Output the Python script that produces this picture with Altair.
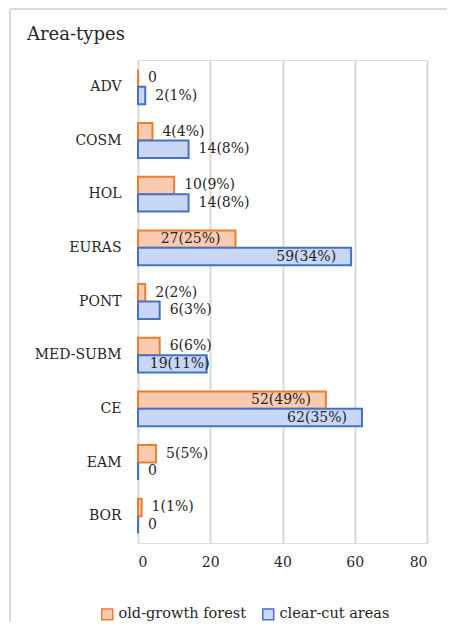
import altair as alt
import pandas as pd

categories = ["ADV", "COSM", "HOL", "EURAS", "PONT", "MED-SUBM", "CE", "EAM", "BOR"]
series = ["old-growth forest", "clear-cut areas"]
old_growth = [0, 4, 10, 27, 2, 6, 52, 5, 1]
old_growth_labels = ["0", "4(4%)", "10(9%)", "27(25%)", "2(2%)", "6(6%)", "52(49%)", "5(5%)", "1(1%)"]
clear_cut = [2, 14, 14, 59, 6, 19, 62, 0, 0]
clear_cut_labels = ["2(1%)", "14(8%)", "14(8%)", "59(34%)", "6(3%)", "19(11%)", "62(35%)", "0", "0"]
x_ticks = [0, 20, 40, 60, 80]

rows = []
for c, v, l in zip(categories, old_growth, old_growth_labels):
    rows.append({"cat": c, "series": series[0], "value": v, "label": l})
for c, v, l in zip(categories, clear_cut, clear_cut_labels):
    rows.append({"cat": c, "series": series[1], "value": v, "label": l})
df = pd.DataFrame(rows)

FONT = "DejaVu Serif"
TXT = "#262626"

y_enc = alt.Y("cat:N", sort=categories, title=None,
              scale=alt.Scale(paddingInner=0.35, paddingOuter=0.175),
              axis=alt.Axis(labelFont=FONT, labelFontSize=14, labelColor=TXT,
                            labelPadding=17, ticks=False, domain=False))
x_enc = alt.X("value:Q", title=None,
              scale=alt.Scale(domain=[0, 80], nice=False),
              axis=alt.Axis(values=x_ticks, labelFont=FONT, labelFontSize=14, labelColor=TXT,
                            labelPadding=12, ticks=False, domain=False,
                            grid=True, gridColor="#d9d9d9", gridWidth=2))
yoff = alt.YOffset("series:N", sort=series)

bars = alt.Chart(df).mark_bar(strokeWidth=2, clip=False).encode(
    y=y_enc,
    x=x_enc,
    yOffset=yoff,
    fill=alt.Fill("series:N", sort=series, title=None,
                  scale=alt.Scale(domain=series, range=["#fbcbb1", "#c8d7f6"]),
                  legend=alt.Legend(orient="none", direction="horizontal",
                                    legendX=-38, legendY=547,
                                    symbolType="square", symbolSize=120,
                                    symbolStrokeWidth=1.5,
                                    labelFont=FONT, labelFontSize=14.5, labelColor=TXT,
                                    labelOffset=4, columnPadding=12)),
    stroke=alt.Stroke("series:N", sort=series, title=None,
                      scale=alt.Scale(domain=series, range=["#ed7d31", "#4472c4"]),
                      legend=None),
)

def labels(cond, align, dx):
    return alt.Chart(df).transform_filter(cond).mark_text(
        align=align, baseline="middle", dx=dx, font=FONT, fontSize=14, color=TXT
    ).encode(
        y=alt.Y("cat:N", sort=categories),
        x=alt.X("value:Q"),
        yOffset=yoff,
        text="label:N",
    )

lab_big = labels("datum.value >= 25", "right", -15)
lab_mid = labels("datum.value >= 15 && datum.value < 25", "right", 3)
lab_small = labels("datum.value < 15", "left", 10)

border_left = alt.Chart(df).mark_rule(color="#d9d9d9", strokeWidth=2).encode(
    x=alt.value(-128), y=alt.value(-51), y2=alt.value(600))
border_top = alt.Chart(df).mark_rule(color="#d9d9d9", strokeWidth=2).encode(
    y=alt.value(-51), x=alt.value(-128), x2=alt.value(330))

chart = alt.layer(border_left, border_top, bars, lab_big, lab_mid, lab_small).properties(
    width=289,
    height=483,
    autosize=alt.AutoSizeParams(type="none"),
    padding={"left": 130, "top": 52, "right": 20, "bottom": 79},
    title=alt.TitleParams("Area-types", anchor="start", frame="group", dx=-111, offset=0, dy=45,
                          baseline="middle", font=FONT, fontSize=18,
                          fontWeight="normal", color=TXT),
).configure_view(stroke=None).configure(background="white")

chart.save("out.html", embed_options={"renderer": "svg", "actions": False})
